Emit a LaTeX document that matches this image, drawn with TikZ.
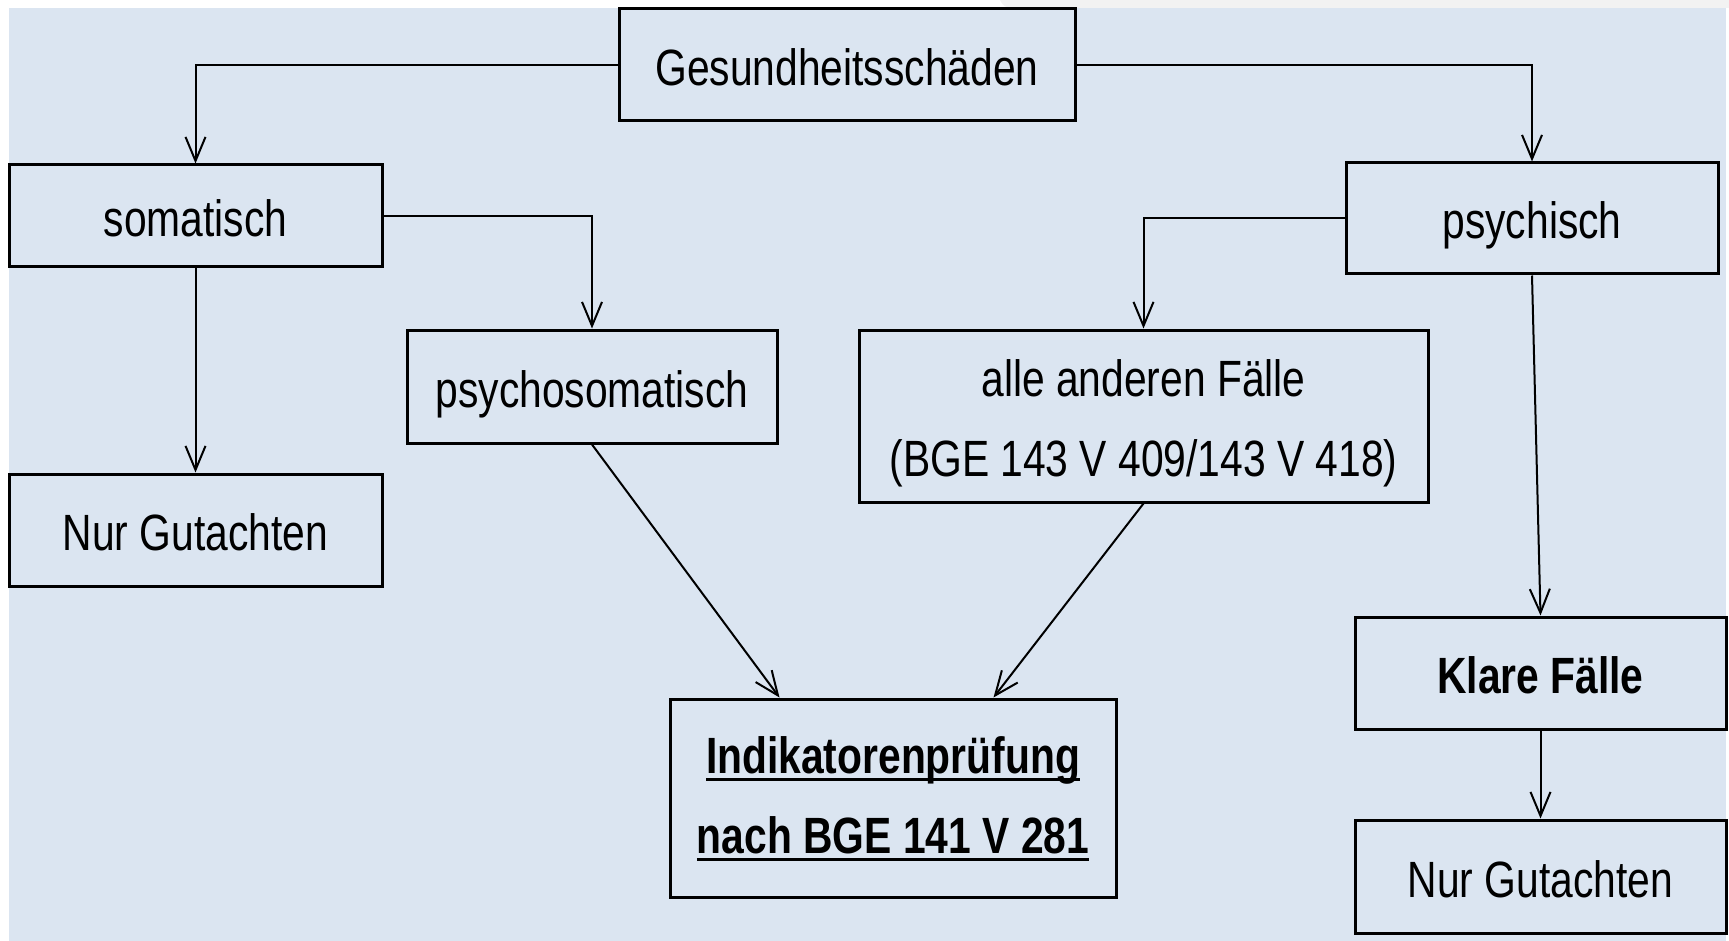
\documentclass[tikz,border=0pt]{standalone}
\usepackage{fontspec}
\setmainfont[FakeStretch=0.8]{Liberation Sans}
\usetikzlibrary{arrows.meta,calc}
\definecolor{bgblue}{HTML}{DBE5F1}
\definecolor{topgray}{HTML}{F2F2F2}
\newcommand\myul[1]{\leavevmode\setbox0\hbox{#1}\rlap{\rule[-8pt]{\wd0}{3pt}}\box0}
\tikzset{
  box/.style={draw=black, line width=3pt, rectangle, inner sep=0pt, align=center,
    font=\fontsize{51}{80}\selectfont, text height=45pt, text depth=4pt},
  conn/.style={draw=black, line width=2pt, -{Straight Barb[length=24pt,width=20pt,line width=2pt]}}
}
\begin{document}
\begin{tikzpicture}[x=1pt,y=-1pt]
\useasboundingbox (0,0) rectangle (1729,941);
\fill[white] (0,0) rectangle (1729,941);
\fill[topgray] (1000,0) .. controls (1004,7) .. (1016,8) -- (1729,8) -- (1729,0) -- cycle;
\fill[bgblue] (9,8) rectangle (1726,941);

\node[box, minimum width=456pt, minimum height=112pt] (G) at (847,65) {Gesundheitsschäden};
\node[box, minimum width=373pt, minimum height=102pt] (som) at (195.5,216) {somatisch};
\node[box, minimum width=372pt, minimum height=111pt] (psy) at (1532,218.5) {psychisch};
\node[box, minimum width=370pt, minimum height=113pt] (psom) at (592,386.5) {psychosomatisch};
\node[box, text height=125pt, text depth=5pt, minimum width=569pt, minimum height=172pt] (alle) at (1143.5,416) {alle anderen Fälle\\(BGE 143 V 409/143 V 418)};
\node[box, minimum width=373pt, minimum height=112pt] (ngl) at (195.5,530) {Nur Gutachten};
\node[box, text height=115pt, text depth=5pt, minimum width=446pt, minimum height=198pt] (ind) at (893,798) {\bfseries\myul{Indikatorenprüfung}\\\bfseries\myul{nach BGE 141 V 281}};
\node[box, minimum width=371pt, minimum height=112pt] (kl) at (1540.5,673) {\bfseries Klare Fälle};
\node[box, minimum width=371pt, minimum height=113pt] (ngr) at (1540.5,876.5) {Nur Gutachten};

\draw[conn] (G.west) -| (som.north);
\draw[conn] (G.east) -| (psy.north);
\draw[conn] (som.east) -| (psom.north);
\draw[conn] (psy.west) -| (alle.north);
\draw[conn] (som.south) -- (ngl.north);
\draw[conn] (psom.south) -- ($(ind.north west)+(111,0)$);
\draw[conn] (alle.south) -- ($(ind.north west)+(325,0)$);
\draw[conn] (psy.south) -- (kl.north);
\draw[conn] (kl.south) -- (ngr.north);
\end{tikzpicture}
\end{document}
